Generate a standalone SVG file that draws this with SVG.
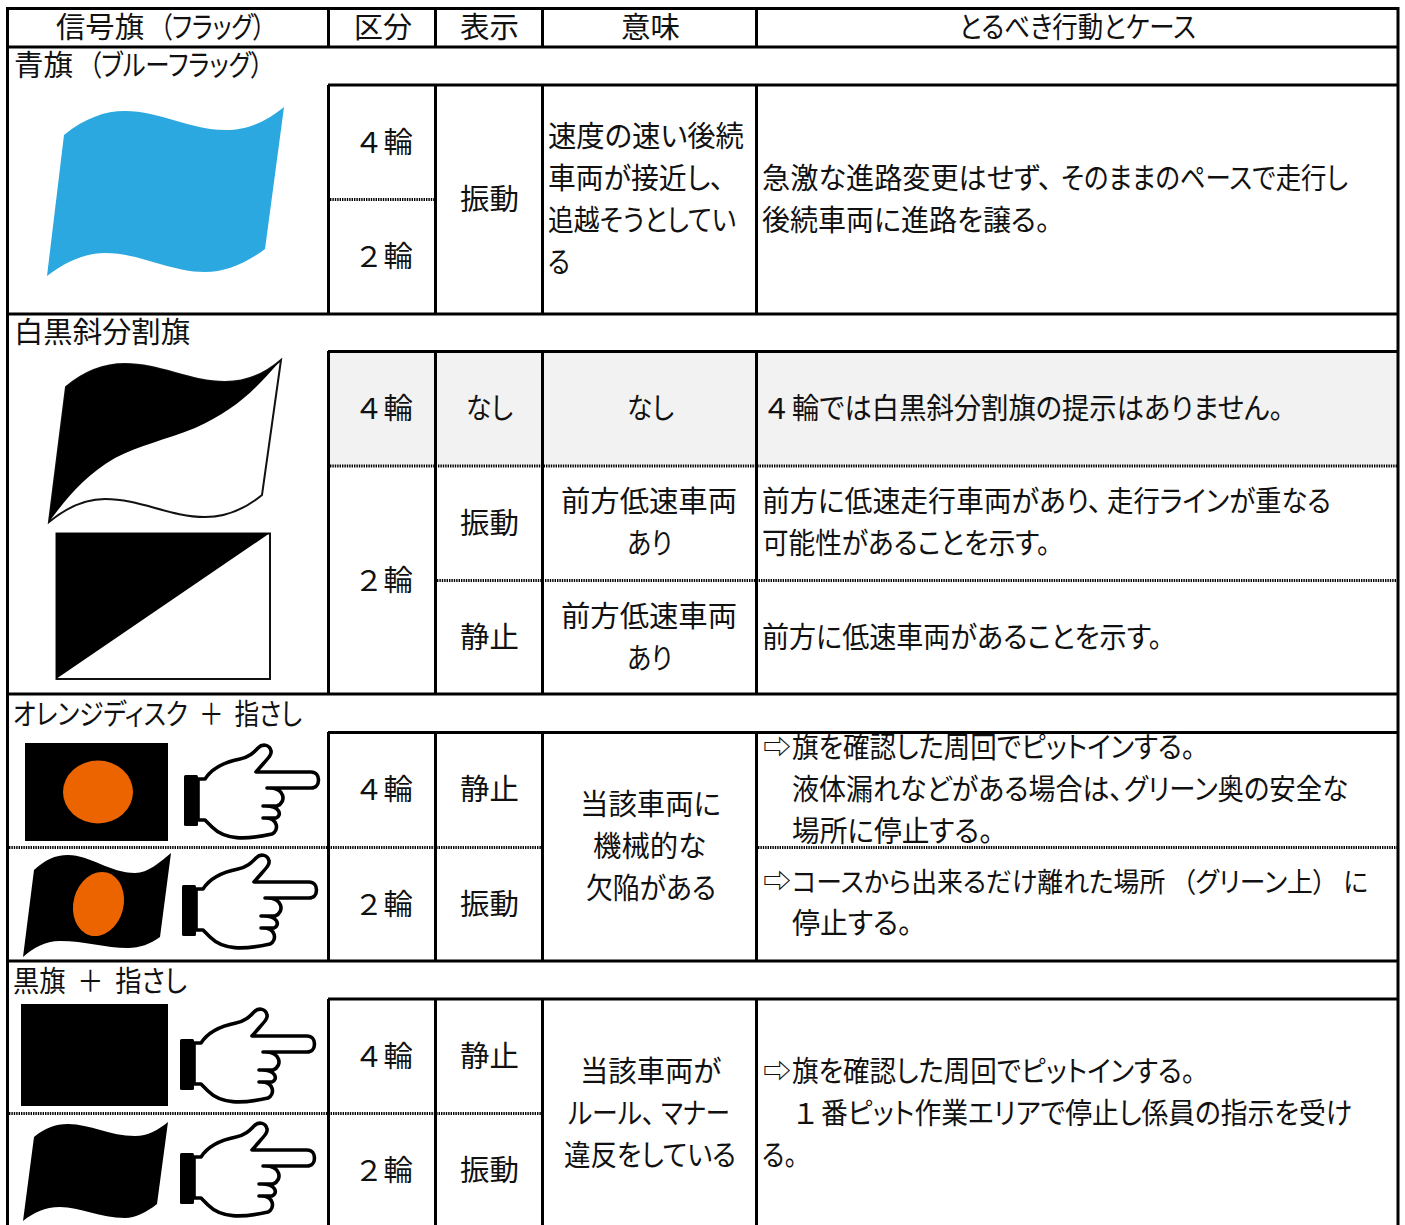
<svg xmlns="http://www.w3.org/2000/svg" xmlns:xlink="http://www.w3.org/1999/xlink" width="1405" height="1225" viewBox="0 0 1405 1225">
<style>
text{font-family:"Noto Sans CJK JP","Noto Sans",sans-serif;font-size:29px;fill:#111;font-feature-settings:"palt";white-space:pre}
.n{font-feature-settings:normal}
.s{stroke:#000;stroke-width:3;fill:none}
.d{stroke:#000;stroke-width:3;fill:none;stroke-dasharray:1.4 1}
</style>
<defs>
<clipPath id="c1"><rect x="758" y="733" width="640" height="120"/></clipPath>
<g id="hand">
<rect x="184" y="775" width="14" height="51" rx="1.5" fill="#000"/>
<path d="M198 779H205C212 768 225 762 240 759C250 757 254 752 258 748C263 743 270 745 271 751C272 755 268 758 256 772H311C321 772 321 788 311 788H267C285 787 287 802 277 806H263C281 805 282 816 276 818H263C279 817 279 831 272 834C245 840 225 840 212 827L205 820H198Z" fill="#fff" stroke="#000" stroke-width="3.6" stroke-linejoin="round"/>
</g>
</defs>
<rect width="1405" height="1225" fill="#fff"/>
<rect x="328" y="351" width="1070" height="115" fill="#F2F2F2"/>

<g id="flags">
<path d="M64 135C85 118 105 111 125 111C160 111 190 130 225 130C250 130 268 120 284 107L265 249C245 264 225 272 205 272C170 272 140 253 105 253C85 253 65 262 47 276Z" fill="#2BA8E0"/>
<path d="M66 387C85 371 105 364 125 364C160 364 190 382 225 382C247 382 265 374 281 360L262 495C245 509 225 517 205 517C170 517 140 499 105 499C85 499 66 508 49 522Z" fill="#fff" stroke="#111" stroke-width="2"/>
<path d="M66 387C85 371 105 364 125 364C160 364 190 382 225 382C247 382 265 374 281 360C255 390 235 410 195 428C165 440 140 445 115 458C85 475 65 500 49 522Z" fill="#000"/>
<rect x="56.500" y="533.500" width="213.500" height="145.500" fill="#fff" stroke="#111" stroke-width="2"/>
<path d="M56 533H270L56 679Z" fill="#000"/>
<rect x="25" y="743" width="143" height="98" fill="#000"/>
<ellipse cx="98" cy="792" rx="35" ry="31.500" fill="#EC6400"/>
<path d="M34 870C45 860 55 855 68 855C90 855 110 873 135 873C148 873 160 862 171 853L160 937C150 944 140 948 128 948C105 948 85 941 60 941C45 941 33 948 23 957Z" fill="#000"/>
<ellipse cx="98.500" cy="904" rx="25" ry="32.500" transform="rotate(15 98.500 904)" fill="#EC6400"/>
<rect x="21" y="1004" width="147" height="102" fill="#000"/>
<path d="M34 1137C45 1128 55 1124 68 1124C90 1124 110 1136 135 1136C148 1136 158 1130 168 1122L157 1204C147 1212 135 1218 125 1218C100 1218 80 1207 60 1207C45 1207 33 1213 23 1221Z" fill="#000"/>
<use xlink:href="#hand" href="#hand"/>
<use xlink:href="#hand" href="#hand" transform="translate(-2 110)"/>
<use xlink:href="#hand" href="#hand" transform="translate(-4 264)"/>
<use xlink:href="#hand" href="#hand" transform="translate(-4 378)"/>
</g>

<g id="labels">
<text x="56" y="38" textLength="88" lengthAdjust="spacingAndGlyphs">信号旗</text>
<text x="160" y="38" textLength="105" lengthAdjust="spacingAndGlyphs">（フラッグ）</text>
<text x="354" y="38" textLength="58" lengthAdjust="spacingAndGlyphs">区分</text>
<text x="460" y="38" textLength="59" lengthAdjust="spacingAndGlyphs">表示</text>
<text x="621" y="38" textLength="59" lengthAdjust="spacingAndGlyphs">意味</text>
<text x="959" y="38" textLength="237" lengthAdjust="spacingAndGlyphs">とるべき行動とケース</text>

<text x="14" y="76" textLength="59" lengthAdjust="spacingAndGlyphs">青旗</text>
<text x="89" y="76" textLength="174" lengthAdjust="spacingAndGlyphs">（ブルーフラッグ）</text>
<text class="n" x="354" y="153" textLength="59" lengthAdjust="spacingAndGlyphs">４輪</text>
<text class="n" x="354" y="267" textLength="59" lengthAdjust="spacingAndGlyphs">２輪</text>
<text x="460" y="210" textLength="59" lengthAdjust="spacingAndGlyphs">振動</text>
<text x="548" y="147" textLength="196" lengthAdjust="spacingAndGlyphs">速度の速い後続</text>
<text x="548" y="189" textLength="176" lengthAdjust="spacingAndGlyphs">車両が接近し、</text>
<text x="548" y="231" textLength="188" lengthAdjust="spacingAndGlyphs">追越そうとしてい</text>
<text x="548" y="273" textLength="22" lengthAdjust="spacingAndGlyphs">る</text>
<text x="762" y="189" textLength="290" lengthAdjust="spacingAndGlyphs">急激な進路変更はせず、</text>
<text x="1061" y="189" textLength="287" lengthAdjust="spacingAndGlyphs">そのままのペースで走行し</text>
<text x="762" y="231" textLength="288" lengthAdjust="spacingAndGlyphs">後続車両に進路を譲る。</text>

<text x="14" y="343" textLength="176" lengthAdjust="spacingAndGlyphs">白黒斜分割旗</text>
<text class="n" x="354" y="419" textLength="59" lengthAdjust="spacingAndGlyphs">４輪</text>
<text x="466" y="419" textLength="47" lengthAdjust="spacingAndGlyphs">なし</text>
<text x="627" y="419" textLength="47" lengthAdjust="spacingAndGlyphs">なし</text>
<text class="n" x="762" y="419">４</text>
<text x="792" y="419" textLength="491" lengthAdjust="spacingAndGlyphs">輪では白黒斜分割旗の提示はありません。</text>
<text class="n" x="354" y="591" textLength="59" lengthAdjust="spacingAndGlyphs">２輪</text>
<text x="460" y="534" textLength="59" lengthAdjust="spacingAndGlyphs">振動</text>
<text x="561" y="512" textLength="176" lengthAdjust="spacingAndGlyphs">前方低速車両</text>
<text x="627" y="554" textLength="45" lengthAdjust="spacingAndGlyphs">あり</text>
<text x="762" y="512" textLength="340" lengthAdjust="spacingAndGlyphs">前方に低速走行車両があり、</text>
<text x="1107" y="512" textLength="224" lengthAdjust="spacingAndGlyphs">走行ラインが重なる</text>
<text x="762" y="554" textLength="288" lengthAdjust="spacingAndGlyphs">可能性があることを示す。</text>
<text x="460" y="648" textLength="59" lengthAdjust="spacingAndGlyphs">静止</text>
<text x="561" y="627" textLength="176" lengthAdjust="spacingAndGlyphs">前方低速車両</text>
<text x="627" y="669" textLength="45" lengthAdjust="spacingAndGlyphs">あり</text>
<text x="762" y="648" textLength="400" lengthAdjust="spacingAndGlyphs">前方に低速車両があることを示す。</text>

<text x="13" y="725" textLength="289" lengthAdjust="spacingAndGlyphs">オレンジディスク  ＋  指さし</text>
<text class="n" x="354" y="800" textLength="59" lengthAdjust="spacingAndGlyphs">４輪</text>
<text x="460" y="800" textLength="59" lengthAdjust="spacingAndGlyphs">静止</text>
<text class="n" x="354" y="915" textLength="59" lengthAdjust="spacingAndGlyphs">２輪</text>
<text x="460" y="915" textLength="59" lengthAdjust="spacingAndGlyphs">振動</text>
<text x="580" y="815" textLength="141" lengthAdjust="spacingAndGlyphs">当該車両に</text>
<text x="593" y="857" textLength="113" lengthAdjust="spacingAndGlyphs">機械的な</text>
<text x="586" y="899" textLength="130" lengthAdjust="spacingAndGlyphs">欠陥がある</text>
<g clip-path="url(#c1)">
<text x="763" y="758" textLength="28" lengthAdjust="spacingAndGlyphs">⇨</text>
<text x="792" y="758" textLength="403" lengthAdjust="spacingAndGlyphs">旗を確認した周回でピットインする。</text>
</g>
<text x="792" y="800" textLength="331" lengthAdjust="spacingAndGlyphs">液体漏れなどがある場合は、</text>
<text x="1124" y="800" textLength="224" lengthAdjust="spacingAndGlyphs">グリーン奥の安全な</text>
<text x="792" y="842" textLength="201" lengthAdjust="spacingAndGlyphs">場所に停止する。</text>
<text x="763" y="892" textLength="28" lengthAdjust="spacingAndGlyphs">⇨</text>
<text x="792" y="892" textLength="576" lengthAdjust="spacingAndGlyphs" style="font-size:27.5px">コースから出来るだけ離れた場所   （グリーン上）   に</text>
<text x="792" y="934" textLength="120" lengthAdjust="spacingAndGlyphs">停止する。</text>

<text x="13" y="992" textLength="174" lengthAdjust="spacingAndGlyphs">黒旗  ＋  指さし</text>
<text class="n" x="354" y="1067" textLength="59" lengthAdjust="spacingAndGlyphs">４輪</text>
<text x="460" y="1067" textLength="59" lengthAdjust="spacingAndGlyphs">静止</text>
<text class="n" x="354" y="1181" textLength="59" lengthAdjust="spacingAndGlyphs">２輪</text>
<text x="460" y="1181" textLength="59" lengthAdjust="spacingAndGlyphs">振動</text>
<text x="580" y="1082" textLength="141" lengthAdjust="spacingAndGlyphs">当該車両が</text>
<text x="568" y="1124" textLength="87" lengthAdjust="spacingAndGlyphs">ルール、</text>
<text x="661" y="1124" textLength="69" lengthAdjust="spacingAndGlyphs">マナー</text>
<text x="564" y="1166" textLength="172" lengthAdjust="spacingAndGlyphs">違反をしている</text>
<text x="763" y="1082" textLength="28" lengthAdjust="spacingAndGlyphs">⇨</text>
<text x="792" y="1082" textLength="403" lengthAdjust="spacingAndGlyphs">旗を確認した周回でピットインする。</text>
<text class="n" x="791" y="1124">１</text>
<text x="821" y="1124" textLength="531" lengthAdjust="spacingAndGlyphs">番ピット作業エリアで停止し係員の指示を受け</text>
<text x="762" y="1166" textLength="35" lengthAdjust="spacingAndGlyphs">る。</text>
</g>

<g id="grid">
<path class="s" d="M7.500 1225V8.500H1398V1225"/>
<path class="s" d="M7 47H1398M7 314H1398M7 694H1398M7 961H1398"/>
<path class="s" d="M328 85H1398M328 351.500H1398M328 732.500H1398M328 999H1398"/>
<path class="s" d="M328.500 8V47M435.500 8V47M542.500 8V47M756.500 8V47"/>
<path class="s" d="M328.500 85V314M435.500 85V314M542.500 85V314M756.500 85V314"/>
<path class="s" d="M328.500 351V694M435.500 351V694M542.500 351V694M756.500 351V694"/>
<path class="s" d="M328.500 732V961M435.500 732V961M542.500 732V961M756.500 732V961"/>
<path class="s" d="M328.500 999V1225M435.500 999V1225M542.500 999V1225M756.500 999V1225"/>
<path class="d" d="M330 199.500H434M330 466H1397M437 580.500H1397M9 847.500H541M758 847.500H1397M9 1113.500H541"/>
</g>
</svg>
